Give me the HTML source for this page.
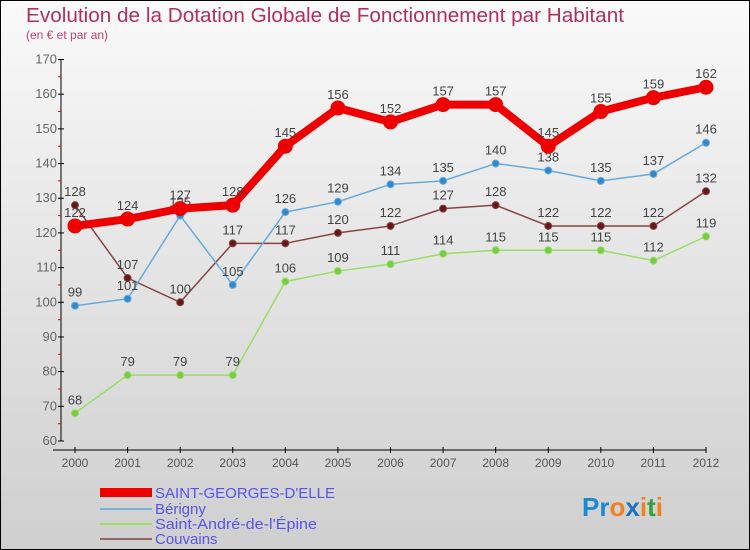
<!DOCTYPE html>
<html><head><meta charset="utf-8"><style>
body{margin:0;}
#wrap{width:750px;height:550px;position:relative;background:linear-gradient(#fafafa,#e8e8e8 40%,#cfcfcf);border:1px solid #000;box-sizing:border-box;overflow:hidden;font-family:"Liberation Sans",sans-serif;}
text{font-family:"Liberation Sans",sans-serif;}
</style></head><body>
<div id="wrap">
<svg id="svg" width="750" height="550" style="position:absolute;left:-1px;top:-1px">
<text x="26" y="22" font-size="20" fill="#b03060" textLength="598" lengthAdjust="spacingAndGlyphs">Evolution de la Dotation Globale de Fonctionnement par Habitant</text>
<text x="26" y="39" font-size="12" fill="#c04070">(en € et par an)</text>
<g id="axes"></g><g id="series"></g>
<g>
<rect x="100" y="488" width="52" height="9" fill="#e00"/>
<text x="155" y="498" font-size="15" fill="#5555ee" textLength="180" lengthAdjust="spacingAndGlyphs">SAINT-GEORGES-D'ELLE</text>
<line x1="100" y1="509" x2="152" y2="509" stroke="#7aaed6" stroke-width="2"/>
<text x="155" y="514" font-size="15" fill="#5555ee">Bérigny</text>
<line x1="100" y1="524" x2="152" y2="524" stroke="#99dd66" stroke-width="2"/>
<text x="155" y="529" font-size="15" fill="#5555ee" textLength="162" lengthAdjust="spacingAndGlyphs">Saint-André-de-l'Épine</text>
<line x1="100" y1="539" x2="152" y2="539" stroke="#996666" stroke-width="2"/>
<text x="155" y="544" font-size="15" fill="#5555ee">Couvains</text>
</g>
<g font-size="26" font-weight="bold">
<text x="582" y="516"><tspan fill="#1e88d0">Pr</tspan><tspan fill="#f08020">o</tspan><tspan fill="#1e70c0">x</tspan><tspan fill="#f08020">i</tspan><tspan fill="#30a040">t</tspan><tspan fill="#f08020">i</tspan></text>
</g>
</svg>
</div>
<script>
const years=[2000,2001,2002,2003,2004,2005,2006,2007,2008,2009,2010,2011,2012];
const yTicks=[60,70,80,90,100,110,120,130,140,150,160,170];
const sgValues=[122,124,127,128,145,156,152,157,157,145,155,159,162];
const berignyValues=[99,101,125,105,126,129,134,135,140,138,135,137,146];
const andreValues=[68,79,79,79,106,109,111,114,115,115,115,112,119];
const couvainsValues=[128,107,100,117,117,120,122,127,128,122,122,122,132];
const NS="http://www.w3.org/2000/svg";
function xs(i){return 75+i*(706-75)/(years.length-1);}
function ys(v){return 441-(v-60)*(441-59.5)/110;}
function mk(tag,attrs,parent){const e=document.createElementNS(NS,tag);for(const k in attrs)e.setAttribute(k,attrs[k]);parent.appendChild(e);return e;}
const ax=document.getElementById('axes');
let a=mk('line',{x1:61,y1:59,x2:61,y2:441,stroke:'#000','stroke-width':1},ax);


yTicks.forEach(v=>{
 const y=ys(v);
 mk('line',{x1:58,y1:y,x2:64,y2:y,stroke:'#000'},ax);
 if(v<170) mk('line',{x1:58,y1:ys(v+5),x2:61,y2:ys(v+5),stroke:'#e00'},ax);
 const t=mk('text',{x:57,y:y+4,'font-size':13,fill:'#666','text-anchor':'end'},ax);t.textContent=v;
 
 
});
a=mk('line',{x1:53,y1:450,x2:706,y2:450,stroke:'#000'},ax);


years.forEach((yr,i)=>{
 mk('line',{x1:xs(i),y1:447,x2:xs(i),y2:453,stroke:'#000'},ax);
 const t=mk('text',{x:xs(i),y:467,'font-size':12,fill:'#555','text-anchor':'middle'},ax);t.textContent=yr;
 
 
});
const sg=document.getElementById('series');
function draw(vals,color,w,r,name,dot){
 const g=mk('g',{},sg);
 
 
 const p=mk('polyline',{points:vals.map((v,i)=>xs(i)+','+ys(v)).join(' '),fill:'none',stroke:color,'stroke-width':w,'stroke-linejoin':'round'},g);
 
 
 vals.forEach((v,i)=>{
  const c=mk('circle',{cx:xs(i),cy:ys(v),r:r,fill:dot,stroke:color,'stroke-width':1},g);
  
  
  const t=mk('text',{x:xs(i),y:ys(v)-9,'font-size':13,fill:'#444','text-anchor':'middle'},g);t.textContent=v;
  
  
 });
}
draw(andreValues,'#99dd66',1.5,3.5,'saint-andre-series','#77cc44');
draw(couvainsValues,'#884444',1.5,3.5,'couvains-series','#661818');
draw(berignyValues,'#66aadd',1.5,3.5,'berigny-series','#3388cc');
draw(sgValues,'#ee0000',8,7,'saint-georges-series','#ee0000');
</script>
</body></html>
